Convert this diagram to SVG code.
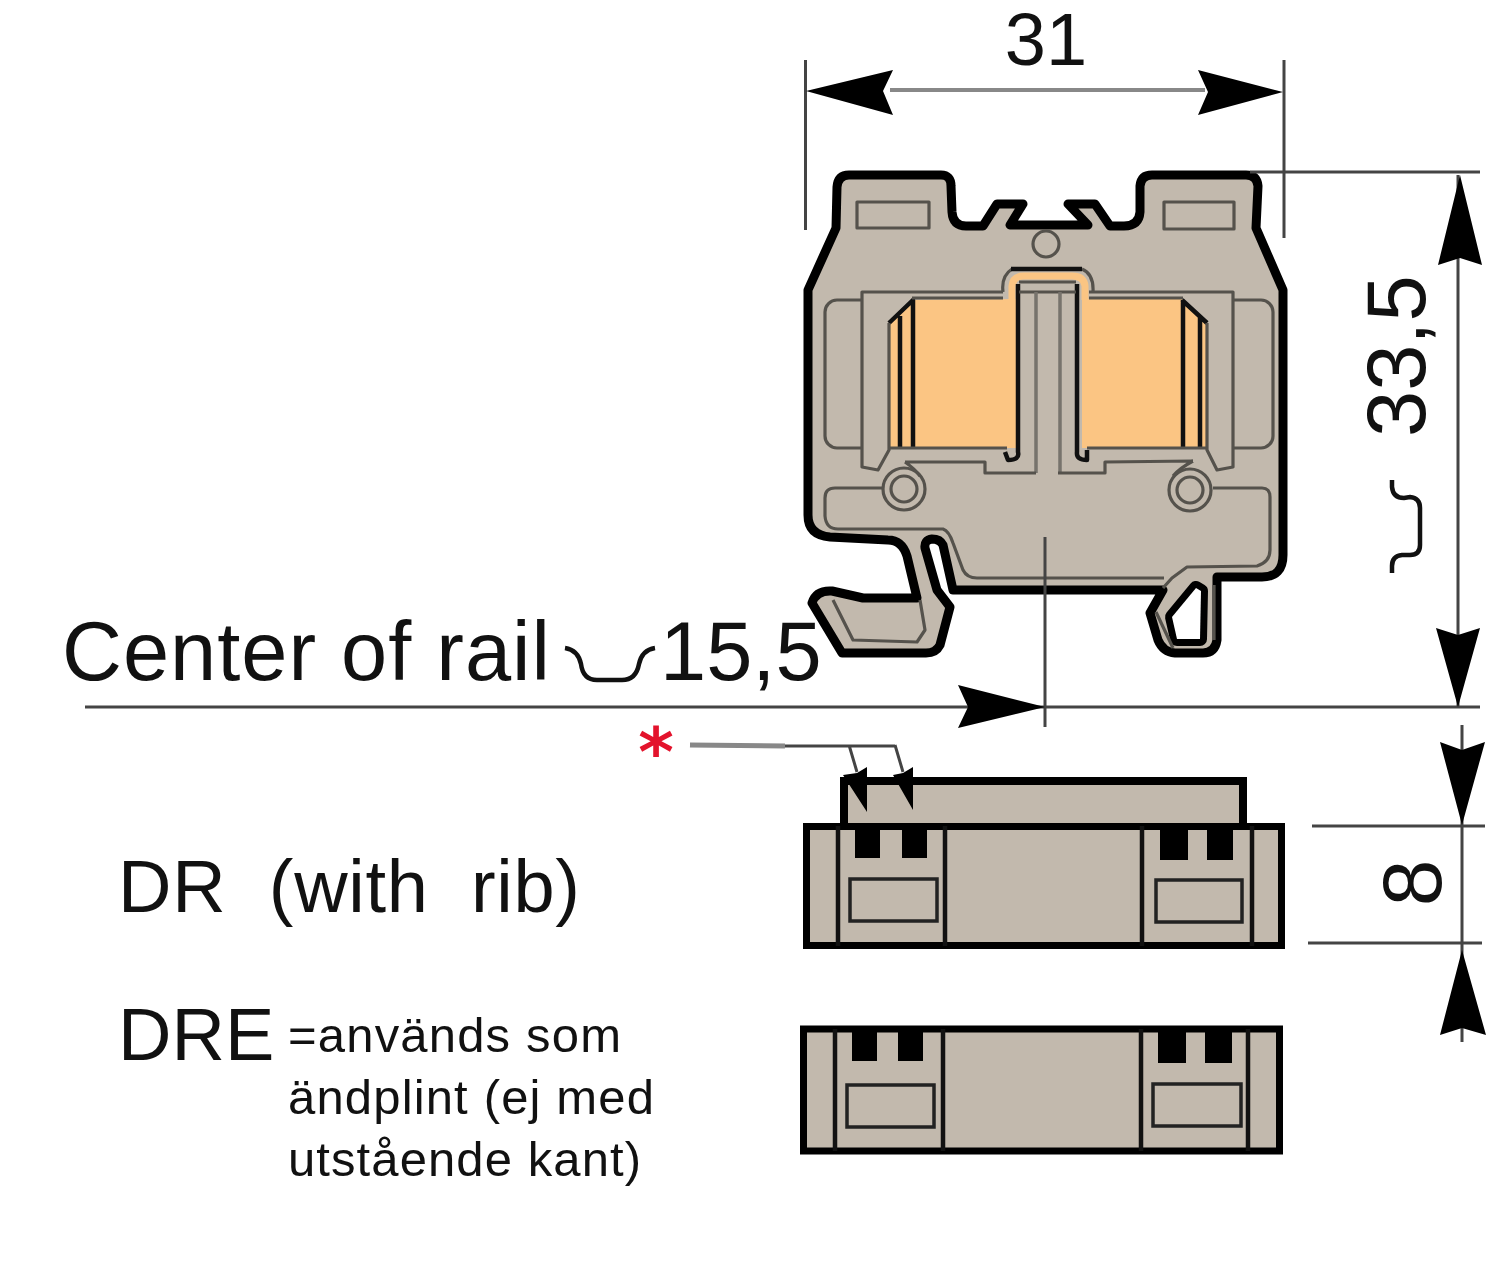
<svg xmlns="http://www.w3.org/2000/svg" width="1500" height="1262" viewBox="0 0 1500 1262">
<style>
text{font-family:"Liberation Sans",Arial,sans-serif;fill:#111;white-space:pre}
.big{font-size:83px}.lab{font-size:74px}.small{font-size:49px}
.body{fill:#c2b9ad;stroke:#000;stroke-width:9;stroke-linejoin:round;stroke-linecap:round}
.blk{fill:none;stroke:#111;stroke-width:4.5;stroke-linejoin:round}
.thin{fill:none;stroke:#55524c;stroke-width:3.2;stroke-linejoin:round}
.thingrey{fill:none;stroke:#77736c;stroke-width:3.5}
.org{fill:#fbc583}
.dim{fill:none;stroke:#444;stroke-width:3}
.dimg{fill:none;stroke:#888;stroke-width:4}
.ah{fill:#000;stroke:none}
.fr{fill:#c2b9ad;stroke:#000;stroke-width:7}
.sq{fill:#000}
.in{fill:#c2b9ad;stroke:#222;stroke-width:3.5}
</style>
<rect width="1500" height="1262" fill="#fff"/>
<g id="terminal-body">
<path class="body" d="M808 290L836 228L837 187Q838 175 849 175L941 175Q951 175 951 186L952 212Q953 226 966 226L983 226L997 204L1023 204L1010 225L1088 225L1068 204L1095 204L1110 226L1124 226Q1139 226 1140 212L1140 186Q1141 175 1152 175L1246 175Q1257 175 1258 186L1256 228L1283 290L1283 555Q1283 577 1262 577L1217 577L1217 640Q1215 653 1203 653L1175 653Q1163 652 1158 640L1150 613L1163 590L953 590L943 545Q940 539 932 539Q924 540 925 548L937 590L950 607L940 645Q936 653 926 653L842 653L812 603Q816 590 832 591L863 598L917 598L907 556Q902 540 888 540L830 537Q808 535 808 515Z"/>
<path d="M1196 588L1201 591L1200 639L1177 639L1172 617Z" fill="#fff" stroke="#000" stroke-width="14" stroke-linejoin="round" paint-order="stroke"/>
<path class="thin" d="M1156 612L1173 648M1214 585L1214 640"/>
<path class="thin" d="M833 600L853 640L917 642L925 630L920 600"/>
<path class="thin" d="M1163 588L1172 578L1187 567L1257 566Q1270 562 1270 550L1270 497Q1270 488 1262 488L1213 488"/>
<path class="thin" d="M883 488L835 488Q825 488 825 498L825 516Q826 529 838 529L943 529Q949 531 953 543L963 570Q967 578 977 578L1164 578"/>
<rect x="857" y="202" width="72" height="26" class="thin"/>
<rect x="1164" y="202" width="70" height="27" class="thin"/>
<circle cx="1046" cy="244" r="13" class="thin"/>
<rect x="825" y="300" width="60" height="148" rx="12" class="thin"/>
<rect x="1212" y="300" width="61" height="148" rx="12" class="thin"/>
<path d="M862 292L1003 292L1003 298L913 300L889 323L889 450L878 470L862 467Z" fill="#c2b9ad"/>
<path d="M1233 292L1089 292L1089 298L1182 300L1207 323L1207 450L1217 470L1233 467Z" fill="#c2b9ad"/>
<path class="org" d="M889 323L913 300L1017 299L1017 448L889 448Z"/>
<path class="org" d="M1082 299L1182 299L1207 323L1207 448L1082 448Z"/>
<path class="blk" d="M889 323L913 300L913 448M900 316L900 448"/>
<path class="blk" d="M1182 300L1207 323M1183 300L1183 448M1200 316L1200 448"/>
<path class="thin" d="M889 323L889 450L878 470L862 467L862 292L1003 292M912 298L1003 298M889 448L1007 448"/>
<path class="thin" d="M1207 323L1207 450L1217 470L1233 467L1233 292L1089 292M1183 298L1089 298M1087 448L1207 448"/>
<path d="M1012 300L1012 286Q1013 276 1024 276L1072 276Q1084 276 1085 286L1085 300" fill="none" stroke="#fbc583" stroke-width="7"/>
<path class="thin" d="M1003 292Q1001 276 1012 269M1082 269Q1094 274 1093 292"/>
<path class="blk" d="M1011 269L1082 269M1018 284L1018 452Q1020 460 1008 460L1005 452M1077 284L1077 452Q1076 460 1087 460L1087 450"/>
<path class="thin" d="M1019 282L1076 282M1019 292L1076 292"/>
<path class="thingrey" d="M1036 292L1036 473M1060 292L1060 473"/>
<path class="thin" d="M905 462L985 462L985 473L1036 473M1058 473L1105 473L1105 462L1193 461M905 462Q915 469 920 476M1193 461Q1180 468 1173 476"/>
<circle cx="904" cy="489" r="13" class="thin"/>
<circle cx="904" cy="489" r="21" class="thin"/>
<circle cx="1190" cy="490" r="13" class="thin"/>
<circle cx="1190" cy="490" r="21" class="thin"/>
</g>
<g id="dr-block">
<rect x="844" y="781" width="399" height="46" class="fr" style="stroke-width:8"/>
<rect x="806.5" y="826.5" width="475" height="119" class="fr"/>
<path class="blk" d="M838 826L838 946M945 826L945 946M1142 826L1142 946M1252 826L1252 946"/>
<rect class="sq" x="855" y="826" width="25" height="32"/><rect class="sq" x="902" y="826" width="25" height="32"/>
<rect class="sq" x="1160" y="826" width="28" height="34"/><rect class="sq" x="1207" y="826" width="26" height="34"/>
<rect class="in" x="850" y="879" width="87" height="42"/>
<rect class="in" x="1156" y="880" width="86" height="42"/>
</g>
<g id="dre-block">
<rect x="803.5" y="1029" width="476" height="122" class="fr"/>
<path class="blk" d="M835 1029L835 1151M943 1029L943 1151M1141 1029L1141 1151M1248 1029L1248 1151"/>
<rect class="sq" x="852" y="1029" width="25" height="32"/><rect class="sq" x="898" y="1029" width="25" height="32"/>
<rect class="sq" x="1158" y="1029" width="28" height="34"/><rect class="sq" x="1205" y="1029" width="27" height="34"/>
<rect class="in" x="847" y="1085" width="87" height="42"/>
<rect class="in" x="1153" y="1084" width="88" height="42"/>
</g>
<g id="connectors">
<path class="dim" d="M805.5 60L805.5 230M1284 60L1284 238"/>
<path class="dimg" d="M890 90L1205 90"/>
<path class="ah" d="M806 91L893 70L883 91L893 115Z"/>
<path class="ah" d="M1283 92L1198 70L1208 92L1198 115Z"/>
<path class="dim" d="M1250 172L1480 172M85 707L1480 707M1045 537L1045 727M1458 175L1458 707M1462 725L1462 1042M1312 826L1485 826M1308 943L1482 943"/>
<path class="ah" d="M1460 175L1438 265L1460 258L1482 265Z"/>
<path class="ah" d="M1458 707L1436 628L1458 635L1480 628Z"/>
<path class="ah" d="M1045 707L958 685L968 707L958 728Z"/>
<path class="ah" d="M1462 825L1440 742L1462 750L1485 742Z"/>
<path class="ah" d="M1462 950L1440 1035L1462 1028L1486 1035Z"/>
<path d="M690 745L785 746" fill="none" stroke="#888" stroke-width="5"/>
<path class="dim" d="M785 746L895 746M849 745L857 772M895 745L903 772"/>
<path class="ah" d="M867 812L843 775L857 773L867 767Z"/>
<path class="ah" d="M913 810L893 775L903 773L913 767Z"/>
<path d="M565 648Q578 650 581 664Q583 680 597 680L622 680Q636 680 639 664Q642 650 655 648" fill="none" stroke="#111" stroke-width="4.5"/>
<path d="M1392 480L1392 487Q1393 498 1404 498L1410 497Q1420 498 1420 508L1420 545Q1420 555 1410 555L1402 555Q1392 556 1392 566L1392 573" fill="none" stroke="#111" stroke-width="4.5"/>
</g>
<g id="labels">
<text class="lab" x="1046" y="65" text-anchor="middle">31</text>
<text class="big" transform="translate(1425 437) rotate(-90)">33,5</text>
<text class="big" x="62" y="680" textLength="488">Center of rail</text>
<text class="big" x="660" y="680">15,5</text>
<text transform="translate(1441 883) rotate(-90)" text-anchor="middle" style="font-size:84px">8</text>
<text class="lab" x="118" y="912" textLength="462">DR  (with  rib)</text>
<text class="lab" x="118" y="1060">DRE</text>
<text class="small" x="288" y="1052" textLength="333">=används som</text>
<text class="small" x="288" y="1114" textLength="366">ändplint (ej med</text>
<text class="small" x="288" y="1176" textLength="353">utstående kant)</text>
<text x="656" y="776" text-anchor="middle" style="font-family:'DejaVu Sans',sans-serif;font-weight:bold;font-size:68px;fill:#e3132c">*</text>
</g>
</svg>
